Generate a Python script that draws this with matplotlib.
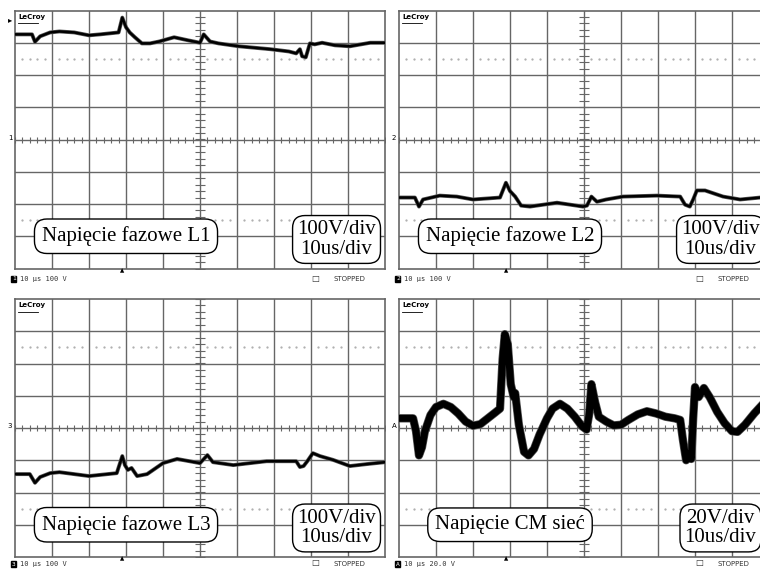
import numpy as np
import matplotlib.pyplot as plt

# czas w działkach (0..10), napięcie w działkach (-4..4)
l1_t = [0.0, 0.46, 0.54, 0.68, 0.95, 1.2, 1.6, 2.0, 2.3, 2.8, 2.9, 3.0, 3.1, 3.24, 3.43, 3.65,
        3.9, 4.3, 4.7, 5.0, 5.1, 5.27, 5.5, 6.05, 6.9, 7.4, 7.6, 7.7, 7.76, 7.86, 7.97, 8.1,
        8.3, 8.65, 9.05, 9.6, 10.0]
l1_v = [3.26, 3.26, 3.03, 3.2, 3.32, 3.35, 3.32, 3.23, 3.26, 3.32, 3.78, 3.48, 3.32, 3.17, 2.98, 2.98,
        3.04, 3.17, 3.07, 3.0, 3.26, 3.04, 2.98, 2.89, 2.8, 2.73, 2.67, 2.8, 2.58, 2.55, 2.98, 2.95,
        3.0, 2.92, 2.89, 3.0, 3.0]

l2_t = [0.0, 0.43, 0.54, 0.65, 1.1, 1.56, 2.0, 2.73, 2.89, 3.0, 3.14, 3.3, 3.54, 4.27, 4.97,
        5.08, 5.2, 5.35, 5.6, 6.05, 6.97, 7.6, 7.73, 7.86, 7.95, 8.05, 8.27, 8.76, 9.22, 9.76, 10.0]
l2_v = [-1.8, -1.8, -2.08, -1.86, -1.74, -1.77, -1.86, -1.8, -1.34, -1.6, -1.77, -2.05, -2.08, -1.96, -2.08,
        -2.05, -1.77, -1.93, -1.86, -1.77, -1.74, -1.77, -2.02, -2.08, -1.86, -1.58, -1.58, -1.77, -1.86, -1.8, -1.8]

l3_t = [0.0, 0.4, 0.54, 0.68, 0.95, 1.2, 2.0, 2.75, 2.9, 2.97, 3.05, 3.15, 3.3, 3.57, 4.0, 4.38,
        5.0, 5.2, 5.35, 5.9, 6.8, 7.6, 7.7, 7.8, 7.9, 8.05, 8.24, 8.6, 9.05, 9.5, 10.0]
l3_v = [-1.43, -1.43, -1.7, -1.52, -1.4, -1.37, -1.49, -1.4, -0.87, -1.15, -1.3, -1.24, -1.49, -1.43, -1.09, -0.96,
        -1.09, -0.84, -1.06, -1.15, -1.03, -1.03, -1.21, -1.18, -1.03, -0.78, -0.87, -0.99, -1.18, -1.12, -1.06]

cm_t = [0.0, 0.38, 0.46, 0.54, 0.62, 0.7, 0.85, 1.0, 1.2, 1.4, 1.6, 1.8, 2.0, 2.2, 2.4, 2.6, 2.73,
        2.8, 2.86, 2.94, 3.02, 3.1, 3.14, 3.24, 3.38, 3.5, 3.65, 3.8, 4.0, 4.15, 4.35, 4.55, 4.75,
        4.95, 5.07, 5.14, 5.2, 5.3, 5.4, 5.6, 5.8, 6.0, 6.2, 6.45, 6.7, 6.95, 7.2, 7.45, 7.6,
        7.67, 7.76, 7.86, 7.9, 7.95, 8.0, 8.1, 8.24, 8.4, 8.6, 8.8, 9.0, 9.15, 9.35, 9.6, 9.8, 10.0]
cm_v = [0.3, 0.3, -0.1, -0.85, -0.6, -0.1, 0.4, 0.65, 0.75, 0.65, 0.45, 0.2, 0.07, 0.12, 0.3, 0.48, 0.6,
        2.14, 2.91, 2.6, 1.36, 0.96, 1.08, 0.1, -0.74, -0.85, -0.65, -0.2, 0.3, 0.6, 0.75, 0.6, 0.35,
        0.05, -0.05, 0.43, 1.36, 0.8, 0.35, 0.2, 0.08, 0.1, 0.25, 0.42, 0.52, 0.45, 0.35, 0.3, 0.25,
        -0.34, -1.0, -0.8, -0.96, 0.28, 1.27, 0.96, 1.24, 0.95, 0.5, 0.15, -0.1, -0.12, 0.1, 0.45, 0.7, 0.85]

titles = ["Napięcie fazowe L1", "Napięcie fazowe L2", "Napięcie fazowe L3", "Napięcie CM sieć"]
scales = ["100V/div\n10us/div", "100V/div\n10us/div", "100V/div\n10us/div", "20V/div\n10us/div"]
status = ["10 µs 100 V", "10 µs 100 V", "10 µs 100 V", "10 µs 20.0 V"]
chans = ["1", "2", "3", "A"]

W, H = 760, 569
fig = plt.figure(figsize=(W / 100, H / 100), dpi=100)
GRID = '#666666'


def fx(x):
    return x / W


def fy(y):
    return 1 - y / H


def scope(left, top, t, v, lw, title, scale, stat, ch, label_y):
    bottom = top + 258
    ax = fig.add_axes([fx(left), fy(bottom), 370 / W, 258 / H])
    ax.set_xlim(0, 10)
    ax.set_ylim(-4, 4)
    ax.set_xticks([])
    ax.set_yticks([])
    for s in ax.spines.values():
        s.set_color(GRID)
        s.set_linewidth(1.2)
    for x in range(1, 10):
        ax.axvline(x, color=GRID, lw=1.0, zorder=1)
    for y in range(-3, 4):
        ax.axhline(y, color=GRID, lw=1.0, zorder=1)
    # drobne podziałki na osiach środkowych
    minor = np.arange(0, 10.01, 0.2)
    ax.plot(minor, np.zeros_like(minor), '|', color=GRID, ms=5, mew=0.8, zorder=1)
    minor_v = np.arange(-4, 4.01, 0.2)
    ax.plot(np.full_like(minor_v, 5), minor_v, '_', color=GRID, ms=7, mew=0.8, zorder=1)
    # linie kropkowane
    dots = np.array([i + f for i in range(10) for f in (0.2, 0.4, 0.6, 0.8)])
    for yd in (2.5, -2.5):
        ax.plot(dots, np.full_like(dots, yd), '.', color='#aaaaaa', ms=1.2, zorder=1)
    ax.plot(t, v, color='#555555', lw=lw + 1.0, zorder=3, solid_joinstyle='round')
    ax.plot(t, v, color='black', lw=lw, zorder=3, solid_joinstyle='round')
    ax.text(0.08, 3.9, "LeCroy", fontsize=5, fontweight='bold', va='top', ha='left',
            family='DejaVu Sans', zorder=4)
    ax.plot([0.08, 0.62], [3.6, 3.6], color='black', lw=0.6, zorder=4)

    ax.text(3.0, -3.0, title, fontsize=15, family='Liberation Serif', ha='center', va='center',
            zorder=5, bbox=dict(boxstyle="round,pad=0.35,rounding_size=0.6", fc='white', ec='black', lw=1.0))
    ax.text(8.69, -3.1, scale, fontsize=15, family='Liberation Serif', ha='center', va='center',
            linespacing=1.05, zorder=5, bbox=dict(boxstyle="round,pad=0.22,rounding_size=0.6",
                                                  fc='white', ec='black', lw=1.0))

    # opisy pod ekranem
    fig.text(fx(left - 3), fy(label_y), ch, fontsize=4.5, color='white', family='DejaVu Sans Mono',
             ha='left', va='center', bbox=dict(boxstyle='square,pad=0.1', fc='black', ec='black'))
    fig.text(fx(left + 5), fy(label_y), stat, fontsize=5, color='#333333', family='DejaVu Sans Mono',
             ha='left', va='center')
    fig.text(fx(left + 300), fy(label_y - 1), "□", fontsize=6, color='#333333', family='DejaVu Sans',
             ha='center', va='center')
    fig.text(fx(left + 318), fy(label_y), "STOPPED", fontsize=5, color='#333333', family='DejaVu Sans',
             ha='left', va='center')
    fig.text(fx(left + 107), fy(bottom + 2), "▲", fontsize=4, color='black', family='DejaVu Sans',
             ha='center', va='center')
    fig.text(fx(left - 5), fy(top + 127), ch, fontsize=5, color='black', family='DejaVu Sans',
             ha='center', va='center')
    return ax


scope(15, 10.5, l1_t, l1_v, 1.8, titles[0], scales[0], status[0], chans[0], 279)
scope(399, 10.5, l2_t, l2_v, 1.8, titles[1], scales[1], status[1], chans[1], 279)
scope(15, 299, l3_t, l3_v, 1.8, titles[2], scales[2], status[2], chans[2], 564)
scope(399, 299, cm_t, cm_v, 5.0, titles[3], scales[3], status[3], chans[3], 564)

fig.text(fx(10), fy(20), "▸", fontsize=6, color='black', ha='center', va='center')

fig.savefig("out.png", dpi=100)
